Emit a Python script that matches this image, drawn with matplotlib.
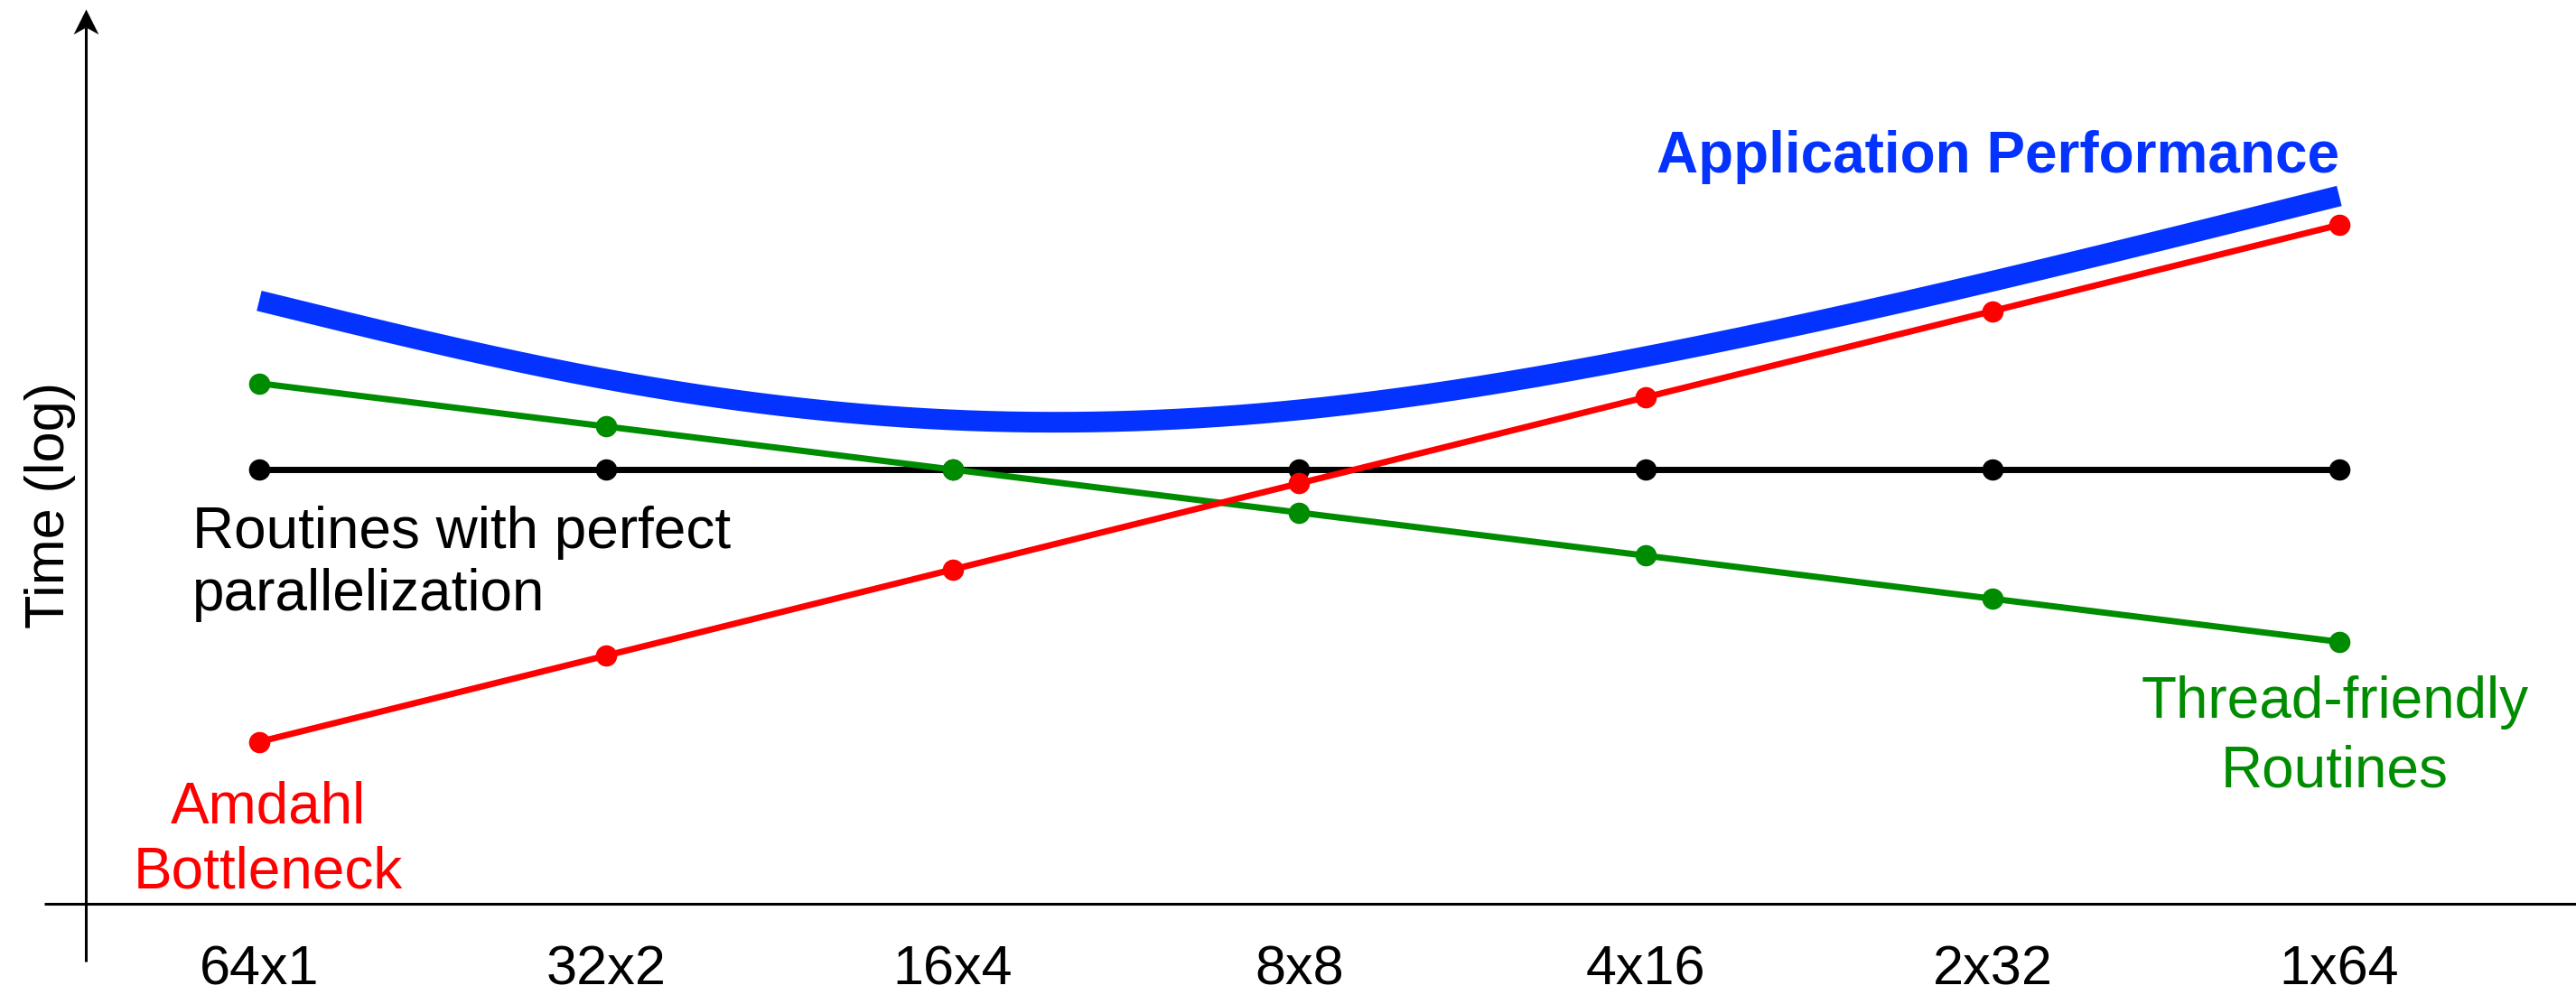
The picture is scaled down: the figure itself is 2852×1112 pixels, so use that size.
import numpy as np
import matplotlib
matplotlib.use("Agg")
import matplotlib.pyplot as plt
from matplotlib.path import Path

# ---- data -------------------------------------------------------------
configs = ["64x1", "32x2", "16x4", "8x8", "4x16", "2x32", "1x64"]
perfect = [1.0, 1.0, 1.0, 1.0, 1.0, 1.0, 1.0]
thread_friendly = [4.0, 2.0, 1.0, 0.5, 0.25, 0.125, 0.0625]
amdahl = [0.0125, 0.05, 0.2, 0.8, 3.2, 12.8, 51.2]
application = [15.1, 4.28, 2.22, 2.61, 6.15, 20.7, 81.6]

BLUE = "#0433FF"
RED = "#FF0000"
GREEN = "#008C00"
FONT = "Liberation Sans"

plt.rcParams["font.family"] = [FONT, "DejaVu Sans"]


def natural_spline(x, y, xs):
    """Natural cubic spline through (x, y) evaluated at xs."""
    x = np.asarray(x, float)
    y = np.asarray(y, float)
    n = len(x)
    h = np.diff(x)
    A = np.zeros((n, n))
    b = np.zeros(n)
    A[0, 0] = A[-1, -1] = 1.0
    for i in range(1, n - 1):
        A[i, i - 1] = h[i - 1]
        A[i, i] = 2 * (h[i - 1] + h[i])
        A[i, i + 1] = h[i]
        b[i] = 3 * ((y[i + 1] - y[i]) / h[i] - (y[i] - y[i - 1]) / h[i - 1])
    c = np.linalg.solve(A, b)
    out = np.empty_like(xs, dtype=float)
    for k, xv in enumerate(xs):
        i = min(max(np.searchsorted(x, xv) - 1, 0), n - 2)
        dx = xv - x[i]
        bi = (y[i + 1] - y[i]) / h[i] - h[i] * (2 * c[i] + c[i + 1]) / 3
        di = (c[i + 1] - c[i]) / (3 * h[i])
        out[k] = y[i] + bi * dx + c[i] * dx ** 2 + di * dx ** 3
    return out


W, H = 2852, 1112
fig = plt.figure(figsize=(W / 100, H / 100), dpi=100)
ax = fig.add_axes([95 / W, 111 / H, 1 - 95 / W, 991 / H])

x = np.arange(len(configs))

# smooth overall application time curve (interpolated in log space)
xs = np.linspace(0, len(configs) - 1, 400)
app_curve = 10 ** natural_spline(x, np.log10(application), xs)
ax.plot(xs, app_curve, color=BLUE, lw=16.5, solid_capstyle="butt", zorder=2)

line_kw = dict(lw=5, marker="o", markersize=16, zorder=3)
ax.plot(x, perfect, color="black", **line_kw)
ax.plot(x, thread_friendly, color=GREEN, **line_kw)
ax.plot(x, amdahl, color=RED, **line_kw)

ax.set_yscale("log")
ax.set_xlim(-0.5, 6.683)
ax.set_ylim(10 ** (-481 / 158.5), 10 ** (510 / 158.5))
ax.set_yticks([])
ax.yaxis.set_minor_locator(matplotlib.ticker.NullLocator())
ax.set_xticks(x)
ax.set_xticklabels(configs, fontsize=44, family=FONT)
ax.tick_params(axis="x", length=0, pad=33)

AXIS_LW = 2.2
for side in ("top", "right", "left"):
    ax.spines[side].set_visible(False)
ax.spines["bottom"].set_linewidth(AXIS_LW)

# axes cross: horizontal baseline extends a little to the left,
# vertical axis runs below it and ends in an arrow head
ax.plot([-46 / 2757, 0], [0, 0], transform=ax.transAxes, color="black",
        lw=AXIS_LW, clip_on=False, solid_capstyle="butt")
ax.plot([0, 0], [-64 / 991, 1 - 20 / 991], transform=ax.transAxes,
        color="black", lw=AXIS_LW, clip_on=False, solid_capstyle="butt")
stealth = Path([(0, 0), (-0.5, -1), (0, -0.72), (0.5, -1), (0, 0)],
               [Path.MOVETO, Path.LINETO, Path.LINETO, Path.LINETO, Path.CLOSEPOLY])
ax.plot([0], [1], transform=ax.transAxes, marker=stealth, markersize=40,
        color="black", markeredgewidth=0, clip_on=False)


def yfrac(py):
    return (1001 - py) / 991


def xdata(px):
    return (px - 287) / 383.83


def label(lines, px, baselines, color, ha):
    for text, by in zip(lines, baselines):
        ax.text(xdata(px), yfrac(by), text, transform=ax.get_xaxis_transform(),
                ha=ha, va="baseline", fontsize=46, color=color, family=FONT)


ax.text(6, yfrac(191), "Application Performance", transform=ax.get_xaxis_transform(),
        ha="right", va="baseline", fontsize=46, fontweight="bold", color=BLUE, family=FONT)
label(["Routines with perfect", "parallelization"], 213, [607, 676], "black", "left")
label(["Amdahl", "Bottleneck"], 297, [912, 983], RED, "center")
label(["Thread-friendly", "Routines"], 2585, [795, 871], GREEN, "center")

fig.text(55 / W, 1 - 560 / H, "Time (log)", rotation=90, ha="center", va="center",
         fontsize=44, family=FONT)

fig.savefig("out.png", dpi=100)
